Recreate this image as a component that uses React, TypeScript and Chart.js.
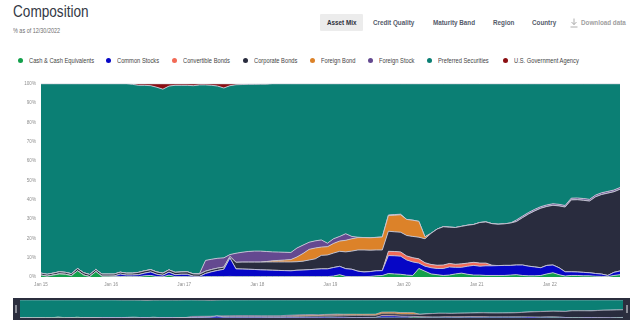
import React, { useEffect, useRef } from 'react';
import { Chart, registerables } from 'chart.js';
Chart.register(...registerables);

// ---------- data (monthly, Jan 2015 .. Dec 2022), % of portfolio ----------
const START_YEAR = 2015;
const months: string[] = Array.from({ length: 96 }, (_, i) => `${START_YEAR + Math.floor(i / 12)}-${String((i % 12) + 1).padStart(2, '0')}`);

const xTickLabels = ['Jan 15', 'Jan 16', 'Jan 17', 'Jan 18', 'Jan 19', 'Jan 20', 'Jan 21', 'Jan 22'];
const yTickValues = [0, 10, 20, 30, 40, 50, 60, 70, 80, 90, 100];

const seriesNames = [
  'Cash & Cash Equivalents',
  'Common Stocks',
  'Convertible Bonds',
  'Corporate Bonds',
  'Foreign Bond',
  'Foreign Stock',
  'Preferred Securities',
  'U.S. Government Agency',
];
const seriesColors = ['#13a04b', '#0606c6', '#f26a56', '#292c3e', '#dc8229', '#644990', '#0b7f74', '#8b0e12'];

const cash = [
  1.0, 0.4, 1.0, 1.6, 1.4, 0.7, 3.2, 1.0, 0.2, 2.8, 0.4, 0.4,
  0.3, 0.3, 0.2, 0.2, 0.2, 0.6, 0.8, 0.2, 0.1, 1.0, 0.2, 0.2,
  0.2, 0, 0, 0.2, 0.2, 0.2, 0.2, 0.3, 0.2, 0.2, 0.2, 0.2,
  0.2, 0.2, 0.2, 0.2, 0.2, 0.2, 0.2, 0.2, 0.2, 0.2, 0.2, 0.2,
  0.5, 1.2, 0.3, 0.2, 0.2, 0.2, 0.3, 0.6, 0.8, 1.8, 1.6, 1.4,
  1.0, 0.8, 4.4, 3.0, 1.6, 1.2, 0.8, 1.0, 1.6, 2.0, 1.4, 1.0,
  1.0, 0.8, 0.8, 0.8, 0.8, 1.0, 1.2, 0.8, 0.6, 0.6, 0.8, 1.6,
  2.2, 1.2, 0.5, 0.8, 0.8, 0.6, 0.6, 0.4, 0.3, 0.2, 0.8, 1.2,
];
const commonStocks = [
  0, 0, 0, 0, 0, 0, 0, 0, 0, 0, 0, 0,
  0.2, 1.2, 0.8, 0.8, 1.0, 1.4, 1.8, 1.2, 0.8, 1.5, 1.0, 1.2,
  1.2, 0.4, 0.3, 1.6, 2.5, 3.2, 3.8, 9.5, 4.0, 3.9, 3.8, 3.7,
  3.5, 3.4, 3.3, 3.2, 3.1, 3.0, 3.3, 3.4, 3.6, 3.8, 4.0, 4.0,
  4.4, 4.3, 4.0, 3.8, 2.8, 2.4, 2.5, 2.6, 2.5, 9.3, 9.4, 9.4,
  7.8, 7.0, 2.8, 2.6, 3.2, 3.2, 3.6, 4.2, 3.4, 3.0, 4.2, 5.0,
  4.6, 5.0, 5.0, 5.1, 5.2, 5.0, 5.0, 5.4, 5.0, 4.6, 4.0, 4.4,
  4.0, 3.6, 2.2, 1.9, 1.8, 1.8, 1.6, 1.4, 1.2, 0.6, 1.6, 1.9,
];
const convertibleBonds = [
  0, 0, 0, 0, 0, 0, 0, 0, 0, 0, 0, 0,
  0, 0, 0, 0, 0, 0, 0, 0, 0, 0, 0, 0,
  0, 0, 0, 0, 0, 0, 0, 0, 0, 0, 0, 0,
  0, 0, 0, 0, 0, 0, 0, 0, 0, 0, 0, 0,
  0, 0, 0, 0, 0, 0, 0, 0, 0, 2.2, 2.2, 2.2,
  2.1, 2.2, 2.2, 1.8, 1.7, 1.7, 1.8, 1.8, 1.6, 1.8, 1.6, 1.6,
  1.6, 1.4, 0.3, 0, 0, 0, 0, 0, 0, 0, 0, 0,
  0, 0, 0, 0, 0, 0, 0, 0, 0, 0, 0, 0,
];
const corporateBonds = [
  1.0, 1.0, 1.0, 1.1, 1.0, 1.0, 1.2, 1.2, 1.1, 1.1, 1.1, 1.1,
  1.0, 1.0, 1.0, 1.0, 1.2, 1.2, 1.2, 1.2, 1.1, 1.2, 1.2, 1.2,
  1.3, 1.2, 1.2, 1.2, 1.2, 1.2, 1.1, 0.8, 3.4, 3.6, 3.7, 3.8,
  4.0, 4.2, 4.3, 4.4, 4.5, 4.6, 4.4, 4.6, 5.0, 5.4, 7.0, 7.2,
  7.5, 7.8, 8.7, 9.4, 11.0, 11.4, 11.1, 10.8, 10.7, 10.4, 10.2, 10.2,
  10.6, 11.0, 11.2, 12.4, 16.1, 18.7, 19.8, 18.8, 19.0, 19.4, 19.6, 19.6,
  21.0, 21.3, 21.5, 21.4, 21.5, 21.9, 22.5, 24.5, 27.0, 29.0, 30.8, 30.5,
  30.9, 32.0, 33.5, 37.2, 37.4, 37.3, 37.1, 39.7, 41.2, 42.6, 41.7, 42.3,
];
const foreignBond = [
  0, 0, 0, 0, 0, 0, 0, 0, 0, 0, 0, 0,
  0, 0, 0, 0, 0, 0, 0, 0, 0, 0, 0, 0,
  0, 0, 0, 0, 0, 0, 0, 0, 0, 0, 0, 0,
  0, 0.2, 0.6, 0.8, 1.0, 1.2, 2.5, 4.0, 5.5, 5.6, 4.3, 4.3,
  5.0, 5.3, 6.0, 6.4, 6.4, 6.4, 6.4, 6.5, 6.7, 8.1, 8.6, 9.0,
  8.3, 8.4, 8.2, 1.0, 0, 0, 0, 0, 0, 0, 0, 0,
  0, 0, 0, 0, 0, 0, 0, 0, 0, 0, 0, 0,
  0, 0, 0, 0, 0, 0, 0, 0, 0, 0, 0, 0,
];
const foreignStock = [
  0, 0, 0, 0, 0, 0, 0, 0, 0, 0, 0, 0,
  0, 0, 0, 0, 0, 0, 0, 0, 0, 0, 0, 0,
  0, 0, 0.2, 5.6, 5.3, 5.1, 4.8, 1.0, 4.7, 5.1, 5.5, 5.7,
  5.7, 5.2, 4.6, 4.3, 4.0, 3.7, 4.6, 4.3, 3.7, 3.7, 3.7, 1.8,
  2.4, 2.4, 3.4, 1.2, 0.2, 0, 0, 0, 0, 0.3, 0.3, 0.3,
  0, 0, 0, 0, 0, 0, 0, 0, 0, 0, 0, 0,
  0, 0, 0, 0, 0, 0, 0.8, 0.8, 0.8, 0.8, 0.8, 0.8,
  0.8, 0.8, 0.8, 0.9, 0.9, 0.9, 0.9, 0.9, 0.9, 0.9, 0.9, 0.9,
];
const preferredSecurities = [
  98.0, 98.6, 98.0, 97.3, 97.6, 98.3, 95.6, 97.8, 98.7, 96.1, 98.5, 98.5,
  98.5, 97.5, 98.0, 97.7, 96.8, 96.0, 95.2, 95.6, 95.2, 95.1, 96.8, 96.6,
  96.5, 97.4, 97.7, 90.8, 90.0, 89.1, 87.9, 87.4, 87.2, 86.8, 86.5, 86.3,
  86.4, 86.6, 87.0, 87.1, 87.2, 87.3, 85.0, 83.5, 82.0, 81.3, 80.8, 82.5,
  80.2, 79.0, 77.6, 79.0, 79.4, 79.6, 79.7, 79.5, 79.3, 67.9, 67.7, 67.5,
  70.2, 70.6, 71.2, 79.2, 77.4, 75.2, 74.0, 74.2, 74.4, 73.8, 73.2, 72.8,
  71.8, 71.5, 72.4, 72.7, 72.5, 72.1, 70.5, 68.5, 66.6, 65.0, 63.6, 62.7,
  62.1, 62.4, 63.0, 59.2, 59.1, 59.4, 59.8, 57.6, 56.4, 55.7, 55.0, 53.7,
];
const usGovernmentAgency = [
  0, 0, 0, 0, 0, 0, 0, 0, 0, 0, 0, 0,
  0, 0, 0, 0.3, 0.8, 0.8, 1.0, 1.8, 2.8, 1.2, 0.8, 0.8,
  0.8, 1.0, 0.6, 0.6, 0.8, 1.2, 2.2, 1.0, 0.5, 0.4, 0.3, 0.3,
  0.2, 0.2, 0, 0, 0, 0, 0, 0, 0, 0, 0, 0,
  0, 0, 0, 0, 0, 0, 0, 0, 0, 0, 0, 0,
  0, 0, 0, 0, 0, 0, 0, 0, 0, 0, 0, 0,
  0, 0, 0, 0, 0, 0, 0, 0, 0, 0, 0, 0,
  0, 0, 0, 0, 0, 0, 0, 0, 0, 0, 0, 0,
];

const seriesValues = [cash, commonStocks, convertibleBonds, corporateBonds, foreignBond, foreignStock, preferredSecurities, usGovernmentAgency];

const tabs = ['Asset Mix', 'Credit Quality', 'Maturity Band', 'Region', 'Country'];

// ---------- styles ----------
const SANS = '"Liberation Sans", Arial, sans-serif';
const tabLefts = [327, 373, 433, 493, 532];
const legendDotCenters = [20.7, 108.3, 174.3, 245.7, 312.7, 370.7, 429.3, 505];

// month index of Jan 1 of each labelled year (index i = middle of month i)
const xTickValues = xTickLabels.map((l) => Math.max(0, (2000 + parseInt(l.slice(4), 10) - START_YEAR) * 12 - 0.5));

function buildDatasets(borderWidth: number) {
  return seriesNames.map((name, k) => ({
    label: name,
    data: seriesValues[k].map((v, i) => ({ x: i, y: v })),
    backgroundColor: seriesColors[k],
    borderColor: 'rgba(200,200,214,0.9)',
    borderWidth,
    pointRadius: 0,
    tension: 0,
    fill: k === 0 ? 'origin' : '-1',
  }));
}

function Narrow({ children, size, color, scale, weight }: { children: any; size: number; color: string; scale: number; weight?: number }) {
  return (
    <span
      style={{
        display: 'inline-block',
        fontFamily: SANS,
        fontSize: size,
        color,
        fontWeight: weight || 400,
        transform: `scaleX(${scale})`,
        transformOrigin: 'left center',
        whiteSpace: 'nowrap',
      }}
    >
      {children}
    </span>
  );
}

export default function App() {
  const mainRef = useRef<HTMLCanvasElement | null>(null);
  const navRef = useRef<HTMLCanvasElement | null>(null);

  useEffect(() => {
    document.body.style.margin = '0';
    const tickFont = { family: SANS, size: 4.6 };
    const main = new Chart(mainRef.current!, {
      type: 'line',
      data: { labels: months, datasets: buildDatasets(1) as any },
      options: {
        responsive: false,
        animation: false,
        layout: { padding: { top: 4, right: 20, left: 0, bottom: 0 } },
        plugins: { legend: { display: false }, tooltip: { enabled: false } },
        scales: {
          x: {
            type: 'linear',
            min: 0,
            max: months.length - 1,
            grid: { display: false, drawTicks: false },
            border: { display: false },
            afterBuildTicks: (scale: any) => {
              scale.ticks = xTickValues.map((v) => ({ value: v }));
            },
            afterFit: (scale: any) => {
              scale.height = 15;
            },
            ticks: {
              autoSkip: false,
              maxRotation: 0,
              padding: 5,
              color: '#8f8f8f',
              font: tickFont,
              callback: (_v: any, i: number) => xTickLabels[i],
            },
          },
          y: {
            stacked: true,
            min: 0,
            max: 100,
            grid: { display: false, drawTicks: false },
            border: { display: false },
            afterBuildTicks: (scale: any) => {
              scale.ticks = yTickValues.map((v) => ({ value: v }));
            },
            afterFit: (scale: any) => {
              scale.width = 41;
            },
            ticks: {
              padding: 5,
              color: '#8f8f8f',
              font: tickFont,
              callback: (v: any) => `${v}%`,
            },
          },
        },
      },
    });

    const nav = new Chart(navRef.current!, {
      type: 'line',
      data: { labels: months, datasets: buildDatasets(0.6) as any },
      options: {
        responsive: false,
        animation: false,
        layout: { padding: 0 },
        plugins: { legend: { display: false }, tooltip: { enabled: false } },
        scales: {
          x: { type: 'linear', display: false, min: 0, max: months.length - 1 },
          y: { stacked: true, display: false, min: 0, max: 100 },
        },
      },
    });
    return () => {
      main.destroy();
      nav.destroy();
    };
  }, []);

  return (
    <div style={{ position: 'relative', width: 640, height: 331, overflow: 'hidden', background: '#fff' }}>
      <div style={{ position: 'absolute', left: 13, top: 2, height: 20, lineHeight: '20px' }}>
        <Narrow size={16} color="#343945" scale={0.85}>Composition</Narrow>
      </div>
      <div style={{ position: 'absolute', left: 13, top: 24, height: 8, lineHeight: '8px' }}>
        <Narrow size={6.5} color="#6e6e6e" scale={0.84}>% as of 12/30/2022</Narrow>
      </div>

      <div style={{ position: 'absolute', left: 320, top: 14, width: 43, height: 17, background: '#ececec', borderRadius: 1 }} />
      {tabs.map((t, i) => (
        <div
          key={t}
          style={{
            position: 'absolute',
            left: tabLefts[i],
            top: 18,
            height: 10,
            lineHeight: '10px',
            fontFamily: SANS,
            fontWeight: 700,
            fontSize: 6.3,
            color: i === 0 ? '#2c2f3a' : '#545a6a',
            whiteSpace: 'nowrap',
          }}
        >
          {t}
        </div>
      ))}
      <svg style={{ position: 'absolute', left: 570, top: 18 }} width={8} height={10} viewBox="0 0 8 10">
        <path d="M4 0.5 V6.5 M1.5 4 L4 6.6 L6.5 4 M0.5 9 H7.5" stroke="#9a9a9a" strokeWidth={0.8} fill="none" />
      </svg>
      <div style={{ position: 'absolute', left: 581, top: 18, height: 10, lineHeight: '10px', fontFamily: SANS, fontWeight: 700, fontSize: 6.3, color: '#a0a0a0', whiteSpace: 'nowrap' }}>
        Download data
      </div>

      {seriesNames.map((n, k) => (
        <div key={n} style={{ position: 'absolute', left: legendDotCenters[k] - 2.5, top: 55, height: 10, display: 'flex', alignItems: 'center', whiteSpace: 'nowrap' }}>
          <span style={{ width: 5, height: 5, borderRadius: '50%', background: seriesColors[k], marginRight: 6, display: 'inline-block' }} />
          <Narrow size={7} color="#444" scale={0.82}>{n}</Narrow>
        </div>
      ))}

      <canvas ref={mainRef} width={640} height={216} style={{ position: 'absolute', left: 0, top: 76, width: 640, height: 216 }} />

      <div style={{ position: 'absolute', left: 13, top: 298, width: 617, height: 22, background: '#2b2e3e' }} />
      <canvas ref={navRef} width={603} height={18} style={{ position: 'absolute', left: 20, top: 300, width: 603, height: 18 }} />
      <div style={{ position: 'absolute', left: 15, top: 305, width: 2, height: 8, background: '#8a8c96' }} />
      <div style={{ position: 'absolute', left: 626, top: 305, width: 2, height: 8, background: '#8a8c96' }} />
    </div>
  );
}
